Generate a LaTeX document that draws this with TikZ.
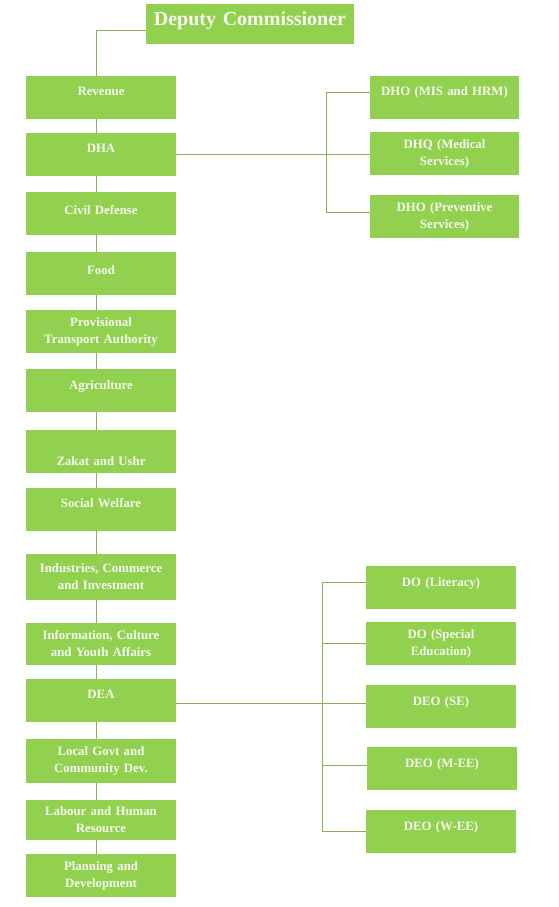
\documentclass[tikz,border=0pt]{standalone}
\usepackage{fontspec}
\setmainfont{Liberation Serif}
\usepackage{xcolor}
\usepackage{tikz}
\usetikzlibrary{positioning,calc}
\definecolor{boxFill}{HTML}{92D050}
\definecolor{boxTxt}{HTML}{F6FAEF}
\definecolor{lineColor}{HTML}{86B35A}
\tikzset{
  box/.style={
    rectangle, fill=boxFill, text=boxTxt,
    minimum width=150pt, minimum height=43pt,
    text width=146pt, align=center, inner sep=0pt,
    font=\bfseries\fontsize{12.8}{17}\selectfont
  },
  up/.style={text height=8pt, text depth=#1},
  down/.style={text height=#1, text depth=0pt},
  conn/.style={draw=lineColor, line width=0.8pt},
}
\begin{document}
\begin{tikzpicture}[x=1pt, y=-1pt]
    \useasboundingbox (0,0) rectangle (558,907);
    % Nodes
    \node[box, minimum width=208pt, minimum height=40pt, text width=204pt,
      font=\bfseries\fontsize{20}{24}\selectfont, up=4pt] (dc) at (250,24) {Deputy Commissioner};
    \coordinate (trunk) at (96,0);

    \node[box, up=13pt] (rev) at (101,97.5) {Revenue};
    \node[box, up=13pt] (dha) at (101,154.5) {DHA};
    \node[box, up=7pt] (civil) at (101,213.5) {Civil Defense};
    \node[box, up=7pt] (food) at (101,273.5) {Food};
    \node[box] (pta) at (101,331.5) {Provisional\\Transport Authority};
    \node[box, up=11pt] (agri) at (101,390.5) {Agriculture};
    \node[box, down=27pt] (zakat) at (101,451.5) {Zakat and Ushr};
    \node[box, up=13pt] (social) at (101,509.5) {Social Welfare};
    \node[box, minimum height=46pt] (ind) at (101,577) {Industries, Commerce\\and Investment};
    \node[box, minimum height=42pt] (info) at (101,644) {Information, Culture\\and Youth Affairs};
    \node[box, up=13pt] (dea) at (101,700.5) {DEA};
    \node[box, minimum height=44pt] (local) at (101,761) {Local Govt and\\Community Dev.};
    \node[box, minimum height=40pt] (labour) at (101,820) {Labour and Human\\Resource};
    \node[box] (plan) at (101,875.5) {Planning and\\Development};

    \node[box, minimum width=149pt, up=13pt] (mis) at (444.5,97.5) {DHO (MIS and HRM)};
    \node[box, minimum width=149pt] (dhq) at (444.5,153.5) {DHQ (Medical\\Services)};
    \node[box, minimum width=149pt] (prev) at (444.5,216.5) {DHO (Preventive\\Services)};
    \coordinate (hbus) at (326,0);

    \node[box, up=11pt] (lit) at (441,587.5) {DO (Literacy)};
    \node[box] (spec) at (441,643.5) {DO (Special\\Education)};
    \node[box, up=11pt] (se) at (441,706.5) {DEO (SE)};
    \node[box, up=11pt] (mee) at (442,768.5) {DEO (M-EE)};
    \node[box, up=11pt] (wee) at (441,831.5) {DEO (W-EE)};
    \coordinate (ebus) at (322,0);

    % Connectors
    \draw[conn] ([yshift=-6pt]dc.west) -| (rev.north -| trunk);
    \foreach \a/\b in {rev/dha, dha/civil, civil/food, food/pta, pta/agri,
      agri/zakat, zakat/social, social/ind, ind/info, info/dea,
      dea/local, local/labour, labour/plan}
      \draw[conn] (\a.south -| trunk) -- (\b.north -| trunk);

    \coordinate (misIn) at ([yshift=5.5pt]mis.west);
    \coordinate (prevIn) at ([yshift=4.5pt]prev.west);
    \draw[conn] (dha.east) -- (dha.east -| dhq.west);
    \draw[conn] (misIn) -| (hbus |- prevIn) -- (prevIn);

    \coordinate (deaOut) at ([yshift=-2.5pt]dea.east);
    \coordinate (litIn) at ([yshift=5.5pt]lit.west);
    \coordinate (meeIn) at ([yshift=3.5pt]mee.west);
    \draw[conn] (deaOut) -- (deaOut -| se.west);
    \draw[conn] (litIn) -| (ebus |- wee.west) -- (wee.west);
    \draw[conn] (spec.west) -- (spec.west -| ebus);
    \draw[conn] (meeIn) -- (meeIn -| ebus);
  \end{tikzpicture}
\end{document}
